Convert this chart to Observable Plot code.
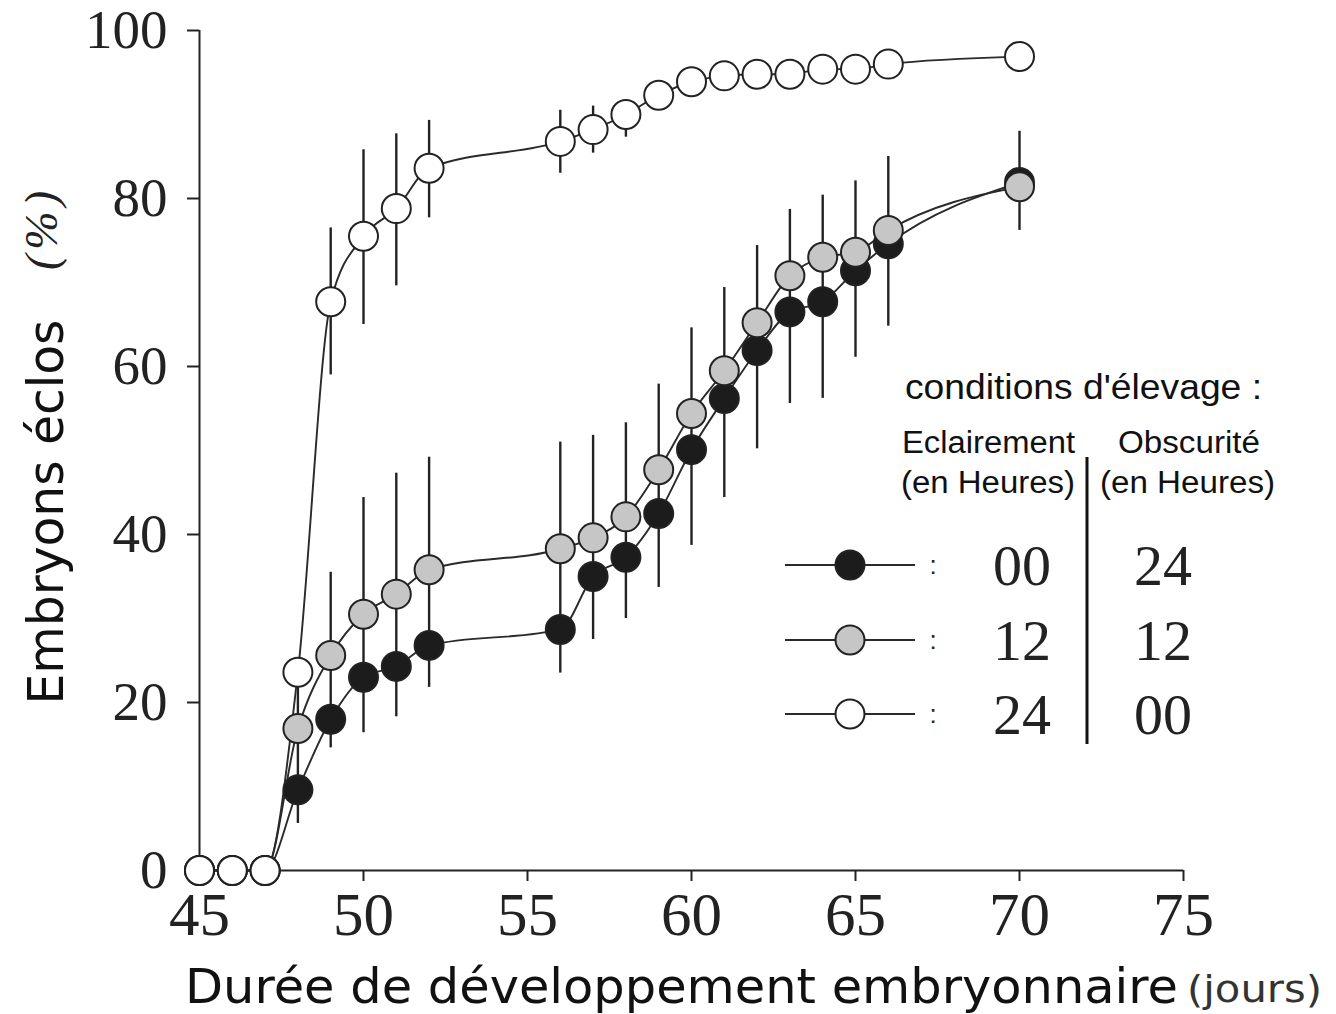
<!DOCTYPE html>
<html><head><meta charset="utf-8">
<script src="https://cdn.jsdelivr.net/npm/d3@7"></script>
<script src="https://cdn.jsdelivr.net/npm/@observablehq/plot@0.6"></script>
<style>
body{margin:0;background:#fff;}
#wrap{position:relative;width:1336px;height:1014px;overflow:hidden;background:#fff;}
#wrap > svg{position:absolute;left:0;top:0;}
</style></head><body><div id="wrap"></div>
<script>
// ---- data ----
const days   = [45,46,47,48,49,50,51,52,56,57,58,59,60,61,62,63,64,65,66,70];
const light00 = [0,0,0,9.6,18,23,24.3,26.8,28.7,35,37.3,42.5,50.1,56.2,61.9,66.5,67.7,71.4,74.6,81.9];
const light12 = [0,0,0,16.9,25.6,30.5,32.9,35.8,38.3,39.6,42.1,47.7,54.4,59.5,65.2,70.8,73,73.6,76.2,81.4];
const light24 = [0,0,0,23.6,67.7,75.5,78.8,83.6,86.8,88.2,90,92.3,93.9,94.6,94.8,94.8,95.4,95.4,96,96.9];

// error bars (low / high) for the 00h & 12h curves
const errDays = [48,49,50,51,52,56,57,58,59,60,61,62,63,64,65,66,70];
const errLow  = [5.6,14.6,16.4,18.3,21.8,23.5,27.5,30,33.7,38.7,44.4,50.2,55.6,56.2,61.1,64.8,76.2];
const errHigh = [22,35.5,44.4,47.3,49.2,51,51.8,53.3,57.9,64.6,69.4,74.4,78.7,80.4,82.1,85,88];
// error bars for the 24h curve
const errDays24 = [49,50,51,52,56,57,58,59];
const errLow24  = [59,65,69.6,77.7,83,85.4,87.3,90.5];
const errHigh24 = [76.5,85.8,87.7,89.3,90.5,91,91.7,94];

const xTicks = [45,50,55,60,65,70,75];
const yTicks = [0,20,40,60,80,100];

const seriesNames = ["00","12","24"];
const seriesDark  = ["24","12","00"];
const seriesFill  = ["#1c1c1c","#c6c6c6","#ffffff"];
const seriesVals  = [light00, light12, light24];

// ---- tables ----
const rows = [];
seriesVals.forEach((vals, s) => vals.forEach((v, i) => rows.push({day: days[i], v, s: seriesNames[s], fill: seriesFill[s]})));
const errs = errDays.map((d, i) => ({day: d, lo: errLow[i], hi: errHigh[i]}))
  .concat(errDays24.map((d, i) => ({day: d, lo: errLow24[i], hi: errHigh24[i]})));

const W = 1336, H = 1014;
const ink = "#222";

const chart = Plot.plot({
  width: W, height: H,
  marginLeft: 199, marginRight: 153, marginTop: 30, marginBottom: 144,
  style: {background: "transparent", color: ink, overflow: "visible"},
  x: {domain: [45, 75]},
  y: {domain: [0, 100]},
  color: {type: "identity"},
  marks: [
    Plot.ruleX([45], {y1: 0, y2: 100, stroke: ink, strokeWidth: 2}),
    Plot.ruleY([0], {x1: 45, x2: 75, stroke: ink, strokeWidth: 2}),
    Plot.axisY({ticks: yTicks, tickSize: 12, tickPadding: 20, label: null, fontSize: 55, fontFamily: "Liberation Serif", strokeWidth: 2}),
    Plot.axisX({ticks: xTicks, tickSize: 11, tickPadding: 10, label: null, fontSize: 61, fontFamily: "Liberation Serif", strokeWidth: 2}),
    Plot.ruleX(errs, {x: "day", y1: "lo", y2: "hi", stroke: ink, strokeWidth: 2.4}),
    Plot.line(rows, {x: "day", y: "v", z: "s", curve: "monotone-x", stroke: "#2a2a2a", strokeWidth: 1.9}),
    ...seriesNames.map(n => Plot.dot(rows.filter(r => r.s === n), {x: "day", y: "v", r: 14.5, fill: "fill", stroke: ink, strokeWidth: 2}))
  ]
});
document.getElementById("wrap").appendChild(chart);

// ---- overlay: titles & legend ----
const ov = d3.select("#wrap").append("svg").attr("width", W).attr("height", H);
ov.append("text").attr("transform", "translate(63,512) rotate(-90)")
  .attr("text-anchor", "middle").attr("font-family", "DejaVu Sans").attr("font-size", 50).attr("fill", "#111")
  .attr("textLength", 385).attr("lengthAdjust", "spacingAndGlyphs")
  .text("Embryons éclos");
ov.append("text").attr("transform", "translate(57,228) rotate(-90)")
  .attr("text-anchor", "middle").attr("font-family", "Liberation Serif").attr("font-style", "italic").attr("font-size", 46).attr("fill", "#222")
  .attr("letter-spacing", 5)
  .text("(%)");
ov.append("text").attr("x", 185).attr("y", 1003)
  .attr("font-family", "DejaVu Sans").attr("font-size", 48).attr("fill", "#111")
  .attr("textLength", 993).attr("lengthAdjust", "spacingAndGlyphs")
  .text("Durée de développement embryonnaire");
ov.append("text").attr("x", 1187).attr("y", 1002)
  .attr("font-family", "DejaVu Sans").attr("font-size", 38).attr("fill", "#333")
  .attr("textLength", 135).attr("lengthAdjust", "spacingAndGlyphs")
  .text("(jours)");

const lf = "Liberation Sans";
function ltext(x, y, size, len, anchor, str) {
  ov.append("text").attr("x", x).attr("y", y).attr("text-anchor", anchor)
    .attr("font-family", lf).attr("font-size", size).attr("fill", "#111")
    .attr("textLength", len).attr("lengthAdjust", "spacingAndGlyphs").text(str);
}
ltext(905, 399, 35, 357, "start", "conditions d'élevage :");
ltext(902, 453, 31, 173, "start", "Eclairement");
ltext(901, 493, 31, 174, "start", "(en Heures)");
ltext(1118, 453, 31, 142, "start", "Obscurité");
ltext(1100, 493, 31, 175, "start", "(en Heures)");
ov.append("line").attr("x1", 1087).attr("x2", 1087).attr("y1", 457).attr("y2", 744).attr("stroke", "#111").attr("stroke-width", 3);

const rowY = [565, 640, 714];
seriesNames.forEach((n, i) => {
  const y = rowY[i];
  ov.append("line").attr("x1", 785).attr("x2", 915).attr("y1", y).attr("y2", y).attr("stroke", "#2a2a2a").attr("stroke-width", 1.9);
  ov.append("circle").attr("cx", 850).attr("cy", y).attr("r", 14.5).attr("fill", seriesFill[i]).attr("stroke", ink).attr("stroke-width", 2);
  ov.append("text").attr("x", 933).attr("y", y + 9).attr("text-anchor", "middle").attr("font-family", lf).attr("font-size", 26).attr("fill", "#222").text(":");
  ov.append("text").attr("x", 1022).attr("y", y + 20).attr("text-anchor", "middle").attr("font-family", "Liberation Serif").attr("font-size", 58).attr("fill", "#222").text(n);
  ov.append("text").attr("x", 1163).attr("y", y + 20).attr("text-anchor", "middle").attr("font-family", "Liberation Serif").attr("font-size", 58).attr("fill", "#222").text(seriesDark[i]);
});
</script></body></html>
